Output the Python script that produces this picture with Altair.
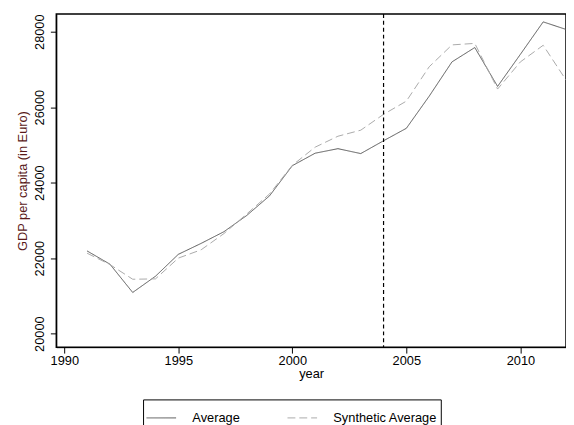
import altair as alt
import pandas as pd

years = list(range(1991, 2013))
average = [22190, 21840, 21090, 21520, 22100, 22390, 22700, 23130, 23650, 24450, 24780, 24900,
           24770, 25110, 25440, 26290, 27200, 27580, 26550, 27400, 28260, 28060]
synthetic = [22130, 21830, 21440, 21450, 22000, 22220, 22650, 23170, 23700, 24460, 24940, 25230,
             25390, 25810, 26160, 27070, 27650, 27690, 26480, 27200, 27640, 26720]
treat_year = [2004]

df = pd.DataFrame({
    "year": years * 2,
    "gdp": average + synthetic,
    "series": ["Average"] * len(years) + ["Synthetic Average"] * len(years),
})

xs = alt.Scale(domain=[1989.65, 2012], nice=False, zero=False)
ys = alt.Scale(domain=[19640, 28470], nice=False, zero=False)

lines = alt.Chart(df).mark_line(strokeWidth=1, clip=True).encode(
    x=alt.X("year:Q", scale=xs, title="year",
            axis=alt.Axis(values=[1990, 1995, 2000, 2005, 2010], format="d", grid=False,
                          titlePadding=0, labelFontSize=13, titleFontSize=13, titleFontWeight="normal",
                          tickSize=6, labelColor="black", titleColor="black", domainColor="black", tickColor="black")),
    y=alt.Y("gdp:Q", scale=ys, title="GDP per capita (in Euro)",
            axis=alt.Axis(values=[20000, 22000, 24000, 26000, 28000], format="d", grid=False, labelAngle=-90,
                          labelAlign="center", labelBaseline="bottom", labelPadding=4,
                          labelFontSize=13, titleFontSize=13, titleFontWeight="normal", tickSize=6,
                          labelColor="black", titleColor="#5a1a1a", domainColor="black", tickColor="black")),
    color=alt.Color("series:N", scale=alt.Scale(domain=["Average", "Synthetic Average"], range=["#555555", "#aaaaaa"]),
                    legend=alt.Legend(title=None, orient="none", legendX=88, legendY=391, direction="horizontal",
                                      strokeColor="black", padding=3, labelFontSize=13, symbolType="stroke",
                                      symbolSize=900, symbolStrokeWidth=1, columnPadding=45, labelColor="black",
                                      labelOffset=16)),
    strokeDash=alt.StrokeDash("series:N", scale=alt.Scale(domain=["Average", "Synthetic Average"], range=[[1, 0], [8, 4]]),
                              legend=None),
)

rule = alt.Chart(pd.DataFrame({"x": treat_year})).mark_rule(color="black", strokeDash=[4, 3], strokeWidth=1.2).encode(
    x=alt.X("x:Q", scale=xs)
)

chart = (lines + rule).properties(
    width=517, height=338, padding={"left": 8, "top": 2, "right": 0, "bottom": 0}
).configure_view(stroke="black", strokeWidth=1.5).configure_axis(
    labelFont="Liberation Sans", titleFont="Liberation Sans").configure_legend(labelFont="Liberation Sans")

chart.save("out.html", embed_options={"renderer": "svg", "actions": False})
